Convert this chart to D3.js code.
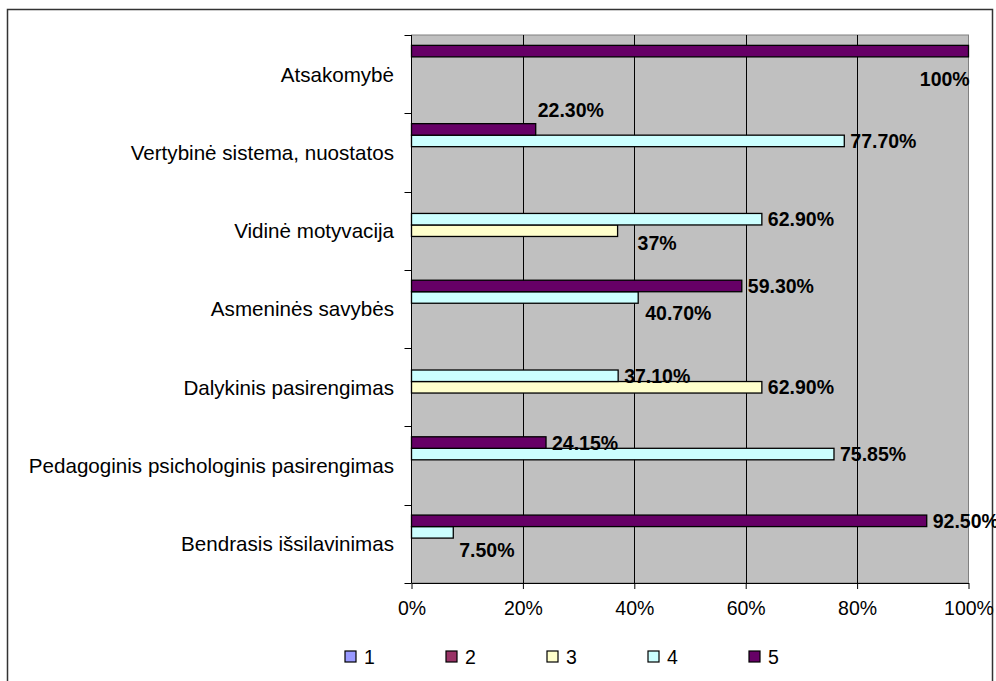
<!DOCTYPE html>
<html>
<head>
<meta charset="utf-8">
<script src="https://cdn.jsdelivr.net/npm/d3@7"></script>
<style>
  html, body { margin: 0; padding: 0; background: #fff; }
  svg { display: block; font-family: "Liberation Sans", Arial, sans-serif; }
</style>
</head>
<body>
<svg id="chart" width="996" height="681"></svg>
<script>
// Categories, listed top to bottom as they appear on the axis
const categories = [
  "Atsakomybė",
  "Vertybinė sistema, nuostatos",
  "Vidinė motyvacija",
  "Asmeninės savybės",
  "Dalykinis pasirengimas",
  "Pedagoginis psichologinis pasirengimas",
  "Bendrasis išsilavinimas"
];
const seriesNames = ["1", "2", "3", "4", "5"];
// Percent values per series (null = no bar)
const series1 = [null, null, null, null, null, null, null];
const series2 = [null, null, null, null, null, null, null];
const series3 = [null, null, 37, null, 62.9, null, null];
const series4 = [null, 77.7, 62.9, 40.7, 37.1, 75.85, 7.5];
const series5 = [100, 22.3, null, 59.3, null, 24.15, 92.5];
const tickValues = [0, 20, 40, 60, 80, 100];
const tickLabels = ["0%", "20%", "40%", "60%", "80%", "100%"];

const seriesColors = ["#9999FF", "#993366", "#FFFFCC", "#CCFFFF", "#660066"];
// Hand-placed value labels: [series, category index, dx, dy]
const labelNudges = [
  ["5", 0, -54.7, 28],
  ["5", 1, -4, -19],
  ["3", 2, 14, 12],
  ["4", 3, 1, 15],
  ["4", 6, 0, 18]
];

const allSeries = [series1, series2, series3, series4, series5];
const svg = d3.select("#chart");

// Outer chart frame
svg.append("rect")
  .attr("x", 7.5).attr("y", 9.5)
  .attr("width", 985).attr("height", 700)
  .attr("fill", "#fff").attr("stroke", "#333").attr("stroke-width", 1.5);

const plot = { left: 411.5, right: 968.5, top: 35, bottom: 583 };

const x = d3.scaleLinear().domain([0, 100]).range([plot.left, plot.right]);
const y = d3.scaleBand().domain(categories).range([plot.top, plot.bottom]).padding(0);
// Series 5 sits at the top of each group, series 1 at the bottom
const ySub = d3.scaleBand()
  .domain(seriesNames.slice().reverse())
  .range([0, y.bandwidth()])
  .paddingInner(0).paddingOuter(0.9);

// Plot background
svg.append("rect")
  .attr("x", plot.left).attr("y", plot.top)
  .attr("width", plot.right - plot.left).attr("height", plot.bottom - plot.top)
  .attr("fill", "#C0C0C0").attr("stroke", "#808080").attr("stroke-width", 1);

// Vertical gridlines
svg.append("g").selectAll("line")
  .data(tickValues.filter(v => v > 0 && v < 100))
  .join("line")
  .attr("x1", d => Math.round(x(d)) + 0.5).attr("x2", d => Math.round(x(d)) + 0.5)
  .attr("y1", plot.top).attr("y2", plot.bottom)
  .attr("stroke", "#000").attr("stroke-width", 1);

// Bars
const barData = [];
allSeries.forEach((vals, si) => {
  vals.forEach((v, ci) => {
    if (v != null) barData.push({ series: seriesNames[si], si, cat: categories[ci], ci, value: v });
  });
});

svg.append("g").selectAll("rect")
  .data(barData)
  .join("rect")
  .attr("x", x(0))
  .attr("y", d => y(d.cat) + ySub(d.series))
  .attr("width", d => x(d.value) - x(0))
  .attr("height", ySub.bandwidth())
  .attr("fill", d => seriesColors[d.si])
  .attr("stroke", "#000").attr("stroke-width", 1.3);

// Value labels
const fmt = v => Number.isInteger(v) ? v + "%" : v.toFixed(2) + "%";
svg.append("g").selectAll("text")
  .data(barData)
  .join("text")
  .attr("x", d => {
    const n = labelNudges.find(m => m[0] === d.series && m[1] === d.ci);
    return x(d.value) + 6 + (n ? n[2] : 0);
  })
  .attr("y", d => {
    const n = labelNudges.find(m => m[0] === d.series && m[1] === d.ci);
    return y(d.cat) + ySub(d.series) + ySub.bandwidth() / 2 + (n ? n[3] : 0);
  })
  .attr("dy", "0.36em")
  .attr("font-size", 19.5).attr("font-weight", "bold").attr("fill", "#000")
  .text(d => fmt(d.value));

// Axes
const xAxis = d3.axisBottom(x)
  .tickValues(tickValues)
  .tickFormat((d, i) => tickLabels[i])
  .tickSize(6).tickSizeOuter(0).tickPadding(12);
const gx = svg.append("g").attr("transform", `translate(0,${plot.bottom})`).call(xAxis);
gx.select(".domain").attr("stroke", "#000");
gx.selectAll(".tick line").attr("stroke", "#000");
gx.selectAll("text").attr("font-size", 19.5).attr("fill", "#000")
  .attr("font-family", "Liberation Sans, Arial, sans-serif");

// Category axis with ticks on group boundaries
const gy = svg.append("g");
gy.append("line")
  .attr("x1", plot.left).attr("x2", plot.left)
  .attr("y1", plot.top).attr("y2", plot.bottom)
  .attr("stroke", "#000");
const boundaries = categories.map(c => y(c)).concat([y(categories[categories.length - 1]) + y.bandwidth()]);
gy.selectAll("line.tk")
  .data(boundaries)
  .join("line").attr("class", "tk")
  .attr("x1", plot.left - 7).attr("x2", plot.left)
  .attr("y1", d => Math.round(d) + 0.5).attr("y2", d => Math.round(d) + 0.5)
  .attr("stroke", "#000");
gy.selectAll("text")
  .data(categories)
  .join("text")
  .attr("x", 394).attr("y", d => y(d) + y.bandwidth() / 2)
  .attr("dy", "0.36em")
  .attr("text-anchor", "end")
  .attr("font-size", 20.6).attr("fill", "#000")
  .text(d => d);

// Legend
const legend = svg.append("g").selectAll("g")
  .data(seriesNames)
  .join("g")
  .attr("transform", (d, i) => `translate(${345 + i * 101},651)`);
legend.append("rect")
  .attr("width", 11).attr("height", 11)
  .attr("fill", (d, i) => seriesColors[i])
  .attr("stroke", "#000").attr("stroke-width", 1.2);
legend.append("text")
  .attr("x", 19).attr("y", 5.5).attr("dy", "0.36em")
  .attr("font-size", 19.5).attr("fill", "#000")
  .text(d => d);
</script>
</body>
</html>
